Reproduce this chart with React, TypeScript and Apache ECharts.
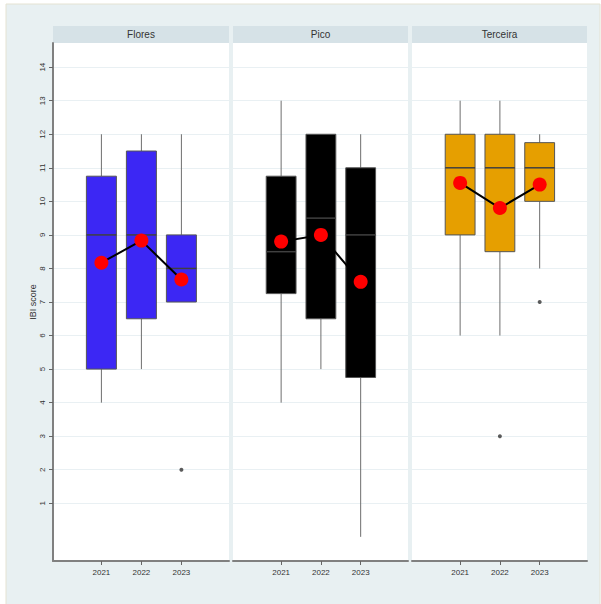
import React, { useEffect, useRef } from "react";
import * as echarts from "echarts";

const panels = ["Flores", "Pico", "Terceira"];
const years = [2021, 2022, 2023];
const yTickValues = [1, 2, 3, 4, 5, 6, 7, 8, 9, 10, 11, 12, 13, 14];

// [min, Q1, median, Q3, max] per year
const floresBoxes = [
  [4, 5, 9, 10.75, 12],
  [5, 6.5, 9, 11.5, 12],
  [7, 7, 8, 9, 12],
];
const picoBoxes = [
  [4, 7.25, 8.5, 10.75, 13],
  [5, 6.5, 9.5, 12, 12],
  [0, 4.75, 9, 11, 12],
];
const terceiraBoxes = [
  [6, 9, 11, 12, 13],
  [6, 8.5, 11, 12, 13],
  [8, 10, 11, 11.75, 12],
];

const floresMeans = [8.17, 8.83, 7.67];
const picoMeans = [8.8, 9.0, 7.6];
const terceiraMeans = [10.55, 9.8, 10.5];

// [year, value]
const floresOutliers = [[2023, 2]];
const picoOutliers: number[][] = [];
const terceiraOutliers = [
  [2022, 3],
  [2023, 7],
];

const panelColors = ["#3c27f4", "#000000", "#e69f00"];

const boxesAll = [floresBoxes, picoBoxes, terceiraBoxes];
const meansAll = [floresMeans, picoMeans, terceiraMeans];
const outliersAll = [floresOutliers, picoOutliers, terceiraOutliers];

const FONT = "Liberation Sans, Arial, sans-serif";

export default function App() {
  const ref = useRef<HTMLDivElement>(null);

  useEffect(() => {
    document.body.style.margin = "0";
    if (!ref.current) return;
    const chart = echarts.init(ref.current, null, { renderer: "svg" });

    const gridLefts = [53, 233, 412];
    const gridWidths = [176, 175, 175];
    const gridTop = 43;
    const gridHeight = 518;

    const grids = panels.map((_, i) => ({
      left: gridLefts[i],
      top: gridTop,
      width: gridWidths[i],
      height: gridHeight,
      show: false,
    }));

    const xAxes = panels.map((_, i) => ({
      type: "value",
      gridIndex: i,
      min: 2019.79,
      max: 2024.19,
      axisLine: { show: true, onZero: false, lineStyle: { color: "#808080", width: 2 } },
      axisTick: {
        show: true,
        customValues: years,
        length: 4,
        lineStyle: { color: "#666", width: 1 },
      },
      axisLabel: {
        show: true,
        customValues: years,
        fontSize: 8,
        color: "#333",
        fontFamily: FONT,
        margin: 7,
        formatter: (v: number) => String(Math.round(v)),
      },
      splitLine: { show: false },
    }));

    const yAxes = panels.map((_, i) => ({
      type: "value",
      gridIndex: i,
      min: -0.72,
      max: 14.72,
      name: i === 0 ? "IBI score" : "",
      nameLocation: "middle",
      nameGap: 16,
      nameRotate: 90,
      nameTextStyle: { fontSize: 9, color: "#333", fontFamily: FONT },
      axisLine: { show: i === 0, onZero: false, lineStyle: { color: "#808080", width: 2 } },
      axisTick: {
        show: i === 0,
        customValues: yTickValues,
        length: 4,
        lineStyle: { color: "#666", width: 1 },
      },
      axisLabel: {
        show: i === 0,
        customValues: yTickValues,
        rotate: 90,
        fontSize: 8,
        color: "#333",
        fontFamily: FONT,
        margin: 7,
      },
      splitLine: { show: true, lineStyle: { color: "#e9f0f3", width: 1 } },
    }));

    const series: any[] = [];
    panels.forEach((_, i) => {
      const color = panelColors[i];
      series.push({
        type: "custom",
        xAxisIndex: i,
        yAxisIndex: i,
        z: 3,
        encode: { x: 0, y: [1, 2, 3, 4, 5] },
        data: boxesAll[i].map((b, j) => [years[j], ...b]),
        renderItem: (params: any, api: any) => {
          const x = api.value(0);
          const mn = api.value(1);
          const q1 = api.value(2);
          const med = api.value(3);
          const q3 = api.value(4);
          const mx = api.value(5);
          const pMin = api.coord([x, mn]);
          const pQ1 = api.coord([x, q1]);
          const pMed = api.coord([x, med]);
          const pQ3 = api.coord([x, q3]);
          const pMax = api.coord([x, mx]);
          const half = api.size([0.75, 0])[0] / 2;
          const cx = pMed[0];
          return {
            type: "group",
            children: [
              {
                type: "line",
                shape: { x1: cx, y1: pMax[1], x2: cx, y2: pQ3[1] },
                style: { stroke: "#6e6e6e", lineWidth: 1 },
              },
              {
                type: "line",
                shape: { x1: cx, y1: pQ1[1], x2: cx, y2: pMin[1] },
                style: { stroke: "#6e6e6e", lineWidth: 1 },
              },
              {
                type: "rect",
                shape: { x: cx - half, y: pQ3[1], width: half * 2, height: pQ1[1] - pQ3[1] },
                style: { fill: color, stroke: "#555", lineWidth: 1 },
              },
              {
                type: "line",
                shape: { x1: cx - half, y1: pMed[1], x2: cx + half, y2: pMed[1] },
                style: { stroke: "#404040", lineWidth: 1.5 },
              },
            ],
          };
        },
      });
      series.push({
        type: "scatter",
        xAxisIndex: i,
        yAxisIndex: i,
        z: 4,
        symbol: "circle",
        symbolSize: 4,
        itemStyle: { color: "#333" },
        data: outliersAll[i],
      });
      series.push({
        type: "line",
        xAxisIndex: i,
        yAxisIndex: i,
        z: 5,
        symbol: "circle",
        symbolSize: 14,
        showSymbol: true,
        itemStyle: { color: "#ff0000", borderWidth: 0 },
        lineStyle: { color: "#000", width: 2 },
        data: meansAll[i].map((m, j) => [years[j], m]),
      });
    });

    const graphics: any[] = [
      {
        type: "rect",
        z: -10,
        shape: { x: 6, y: 4, width: 594, height: 604 },
        style: { fill: "#e8f0f2", stroke: "#e4e2d2", lineWidth: 1 },
      },
    ];
    panels.forEach((p, i) => {
      graphics.push({
        type: "rect",
        z: -9,
        shape: { x: gridLefts[i], y: gridTop, width: gridWidths[i], height: gridHeight },
        style: { fill: "#ffffff" },
      });
      graphics.push({
        type: "rect",
        z: -9,
        shape: { x: gridLefts[i], y: 26, width: gridWidths[i], height: 17 },
        style: { fill: "#d6e2e7" },
      });
      graphics.push({
        type: "text",
        z: 10,
        x: gridLefts[i] + gridWidths[i] / 2,
        y: 34.5,
        style: {
          text: p,
          fill: "#333",
          fontSize: 10,
          fontFamily: FONT,
          align: "center",
          verticalAlign: "middle",
        },
      });
    });

    chart.setOption({
      animation: false,
      backgroundColor: "#ffffff",
      textStyle: { fontFamily: FONT },
      grid: grids,
      xAxis: xAxes,
      yAxis: yAxes,
      series,
      graphic: { elements: graphics },
    });

    return () => {
      chart.dispose();
    };
  }, []);

  return <div ref={ref} style={{ width: 601, height: 604 }} />;
}
